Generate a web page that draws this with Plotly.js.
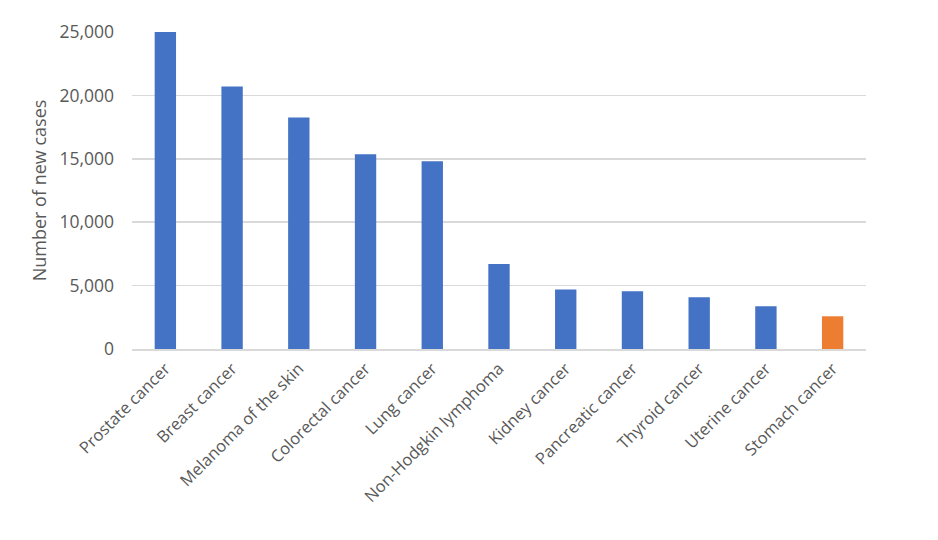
<!DOCTYPE html>
<html>
<head>
<meta charset="utf-8">
<script src="https://cdn.plot.ly/plotly-3.0.1.min.js"></script>
<style>
  html, body { margin: 0; padding: 0; background: #fff; }
  #chart { width: 938px; height: 540px; }
</style>
</head>
<body>
<div id="chart"></div>
<script>
var cancerTypes = ['Prostate cancer', 'Breast cancer', 'Melanoma of the skin', 'Colorectal cancer',
  'Lung cancer', 'Non-Hodgkin lymphoma', 'Kidney cancer', 'Pancreatic cancer',
  'Thyroid cancer', 'Uterine cancer', 'Stomach cancer'];
var newCases = [25050, 20700, 18250, 15350, 14800, 6700, 4700, 4550, 4080, 3370, 2580];
var barColors = ['#4472C4', '#4472C4', '#4472C4', '#4472C4', '#4472C4', '#4472C4',
  '#4472C4', '#4472C4', '#4472C4', '#4472C4', '#ED7D31'];
var yTicks = [0, 5000, 10000, 15000, 20000, 25000];

var data = [{
  x: cancerTypes,
  y: newCases,
  type: 'bar',
  marker: {color: barColors},
  hoverinfo: 'x+y'
}];

var layout = {
  width: 938,
  height: 540,
  margin: {t: 32, b: 191, l: 132, r: 72},
  paper_bgcolor: '#ffffff',
  plot_bgcolor: '#ffffff',
  font: {family: 'Open Sans, sans-serif', color: '#595959', size: 16},
  bargap: 0.68,
  showlegend: false,
  xaxis: {
    tickangle: -45,
    tickfont: {size: 16.5, color: '#595959'},
    showline: true,
    linecolor: '#d9d9d9',
    linewidth: 1.5,
    ticks: '',
    ticklabelstandoff: 2,
    automargin: false
  },
  yaxis: {
    range: [0, 25000],
    tickvals: yTicks,
    tickformat: ',',
    tickfont: {size: 17.5, color: '#595959'},
    gridcolor: '#d9d9d9',
    gridwidth: 1.5,
    zeroline: false,
    ticks: '',
    ticklen: 0,
    ticklabelstandoff: 17,
    automargin: false,
    title: {text: 'Number of new cases', font: {size: 18, color: '#595959'}, standoff: 8}
  }
};

Plotly.newPlot('chart', data, layout, {displayModeBar: false, staticPlot: true});
</script>
</body>
</html>
